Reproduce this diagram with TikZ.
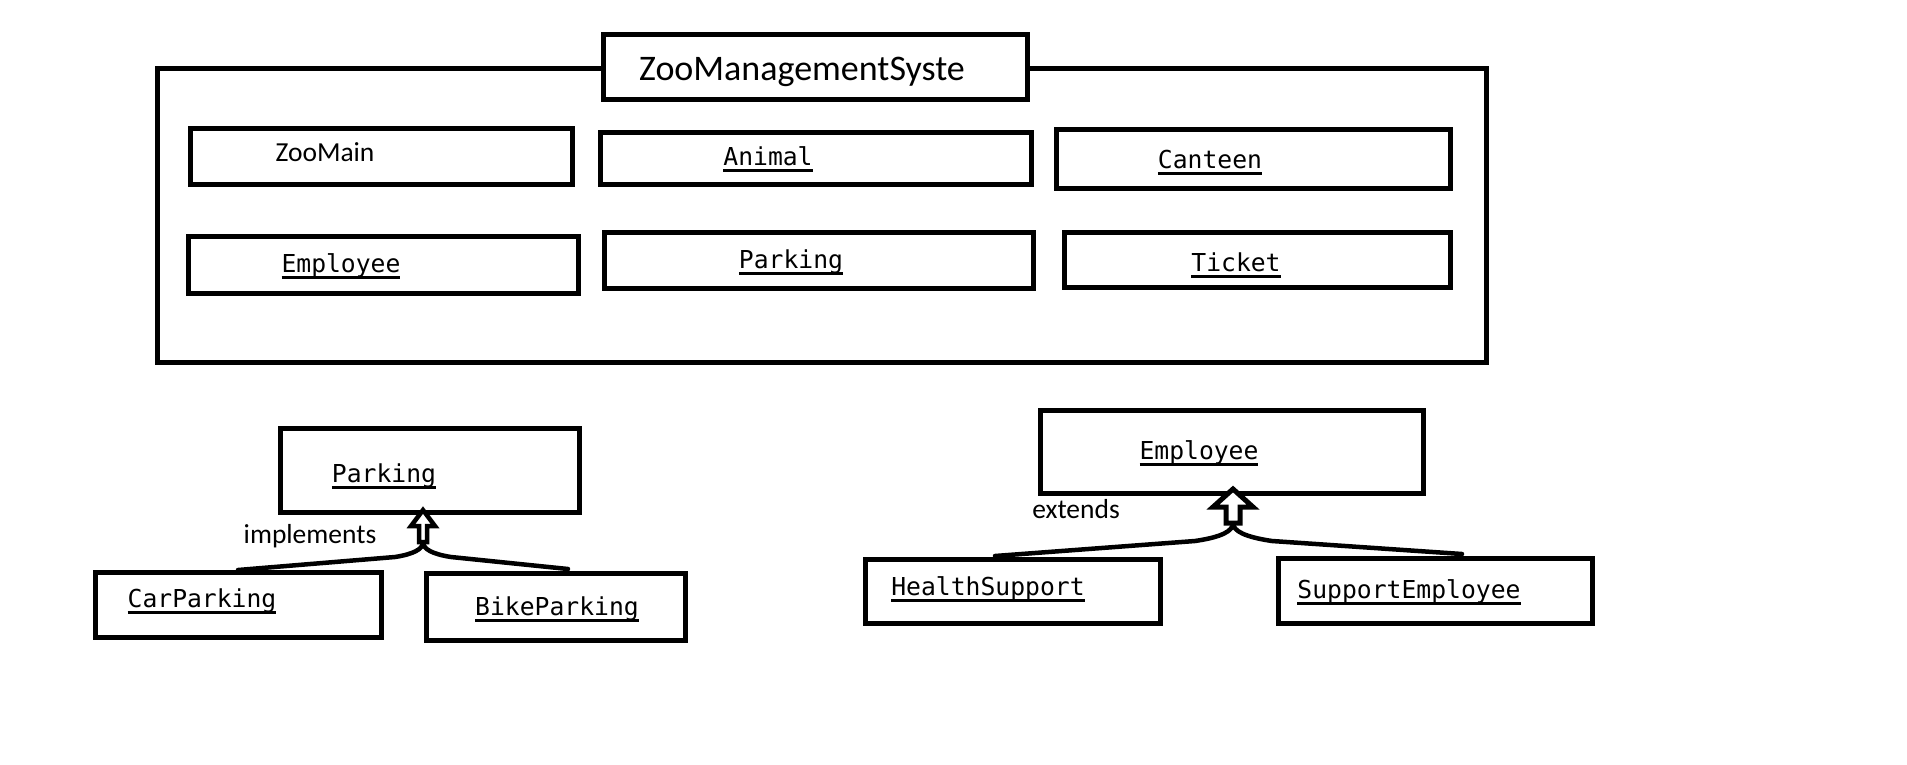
\documentclass[tikz,border=0pt]{standalone}
\usepackage{fontspec}
\usepackage{graphicx}
\setmainfont{Carlito}
\newfontfamily\monof{DejaVu Sans Mono}
\newcommand\ulm[1]{\setbox0\hbox{#1}\rlap{\rule[-6.5pt]{\wd0}{2.6pt}}\box0}
\begin{document}
\begin{tikzpicture}[x=1pt,y=-1pt,
  box/.style={draw,line width=5pt,fill=white,inner sep=0pt},
  mono/.style={font=\monof\fontsize{24.7}{28}\selectfont,anchor=base,inner sep=0pt},
  sans/.style={font=\fontsize{27.5}{32}\selectfont,anchor=base,inner sep=0pt},
  conn/.style={line width=4.5pt,line cap=round},
  hollow/.style={draw,fill=white,line join=miter}]
\useasboundingbox (0,0) rectangle (1907,764);
\fill[white] (0,0) rectangle (1907,764);
% package box
\node[box,minimum width=1329pt,minimum height=294pt] (pkg) at (821.5,215) {};
\node[box,minimum width=424pt,minimum height=65pt] (title) at (815,66.5) {};
\node[sans,font=\fontsize{36}{42}\selectfont] (titletxt) at (802,80) {ZooManagementSyste};
% row 1
\node[box,minimum width=382pt,minimum height=56pt] (zoomain) at (381,156) {};
\node[sans] (zoomaintxt) at (325,161) {ZooMain};
\node[box,minimum width=431pt,minimum height=52pt] (animal) at (815.5,158) {};
\node[mono] (animaltxt) at (768,165) {\ulm{Animal}};
\node[box,minimum width=394pt,minimum height=59pt] (canteen) at (1253,158.5) {};
\node[mono] (canteentxt) at (1210,168) {\ulm{Canteen}};
% row 2
\node[box,minimum width=390pt,minimum height=57pt] (emp1) at (383,264.5) {};
\node[mono] (emp1txt) at (341,272) {\ulm{Employee}};
\node[box,minimum width=429pt,minimum height=56pt] (park1) at (818.5,260) {};
\node[mono] (park1txt) at (791,268) {\ulm{Parking}};
\node[box,minimum width=386pt,minimum height=55pt] (ticket) at (1257,259.5) {};
\node[mono] (tickettxt) at (1236,271) {\ulm{Ticket}};
% parking hierarchy
\node[box,minimum width=299pt,minimum height=84pt] (park2) at (429.5,470) {};
\node[mono] (park2txt) at (384,482) {\ulm{Parking}};
\node[box,minimum width=286pt,minimum height=65pt] (car) at (238,604.5) {};
\node[mono] (cartxt) at (202,607) {\ulm{CarParking}};
\node[box,minimum width=259pt,minimum height=67pt] (bike) at (555.5,606.5) {};
\node[mono] (biketxt) at (557,615) {\ulm{BikeParking}};
\node[sans] (impl) at (310,543) {implements};
% employee hierarchy
\node[box,minimum width=383pt,minimum height=83pt] (emp2) at (1231.5,451.5) {};
\node[mono] (emp2txt) at (1199,459) {\ulm{Employee}};
\node[box,minimum width=295pt,minimum height=64pt] (health) at (1012.5,591) {};
\node[mono] (healthtxt) at (988,595) {\ulm{HealthSupport}};
\node[box,minimum width=314pt,minimum height=65pt] (supp) at (1435,590.5) {};
\node[mono] (supptxt) at (1409,598) {\ulm{SupportEmployee}};
\node[sans] (ext) at (1076,518) {extends};
% connectors: parking
\coordinate (ja) at (423,542);
\coordinate (carend) at (238,570);
\coordinate (bikeend) at (568,569);
\draw[conn] (carend) -- (395,557) .. controls (414,554) and (423,549) .. (ja);
\draw[conn] (bikeend) -- (451,557) .. controls (432,554) and (423,549) .. (ja);
\draw[hollow,line width=4.5pt] (423,510) -- ++(-12,16) -- ++(8,0) -- ++(0,16) -- ++(8,0) -- ++(0,-16) -- ++(8,0) -- cycle;
% connectors: employee
\coordinate (jb) at (1233,523);
\coordinate (healthend) at (995,556);
\coordinate (suppend) at (1462,554);
\draw[conn] (healthend) -- (1195,541) .. controls (1222,537) and (1233,531) .. (jb);
\draw[conn] (suppend) -- (1272,541) .. controls (1245,537) and (1233,531) .. (jb);
\draw[hollow,line width=5pt] (1233,489) -- ++(-20,18) -- ++(13,0) -- ++(0,16) -- ++(14,0) -- ++(0,-16) -- ++(13,0) -- cycle;
\end{tikzpicture}
\end{document}
